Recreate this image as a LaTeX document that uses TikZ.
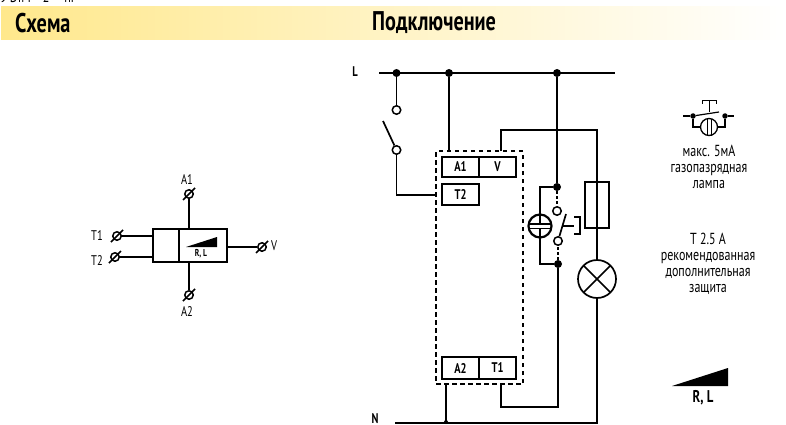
\documentclass[tikz,border=0pt]{standalone}
\usepackage{fontspec}
\setmainfont[FakeStretch=0.75]{PT Sans}
\usetikzlibrary{positioning}
\definecolor{bandyellow}{RGB}{255,232,140}
\tikzset{
  wire/.style={line width=1.7pt},
  thinwire/.style={line width=1.2pt},
  dashwire/.style={line width=1.7pt, dash pattern=on 4.5pt off 3.5pt},
  dot/.style={circle, fill=black, inner sep=0pt, minimum size=8pt},
  ring/.style={circle, draw, line width=1.5pt, fill=white, inner sep=0pt, minimum size=8.5pt},
  cell/.style={rectangle, draw, line width=1.7pt, inner sep=0pt, outer sep=0pt,
    minimum width=37pt, minimum height=20pt, font=\fontsize{14}{15}\selectfont\bfseries},
  tag/.style={inner sep=0pt, font=\fontsize{14}{15}\selectfont},
  note/.style={inner sep=0pt, align=center, font=\fontsize{16}{16}\selectfont},
  head/.style={inner sep=0pt, font=\fontsize{27}{30}\selectfont\bfseries}
}
\begin{document}
\begin{tikzpicture}[x=1pt,y=-1pt]
\useasboundingbox (0,0) rectangle (786,425);
\begin{scope}
\clip (0,0) rectangle (786,3.5);
\node[tag, anchor=base west, font=\fontsize{16}{16}\selectfont] (top) at (0,3) {9 DIM\hspace{12pt}2\hspace{15pt}nF};
\end{scope}
\shade[left color=bandyellow, right color=white] (1,7) rectangle (786,40);
\node[head, anchor=west] (schema) at (15,23) {Схема};
\node[head, anchor=west] (conn) at (372,23) {Подключение};

\node[rectangle, draw, wire, minimum width=26pt, minimum height=33pt, inner sep=0pt, outer sep=0pt] (ka) at (166,245.5) {};
\node[rectangle, draw, wire, minimum width=48pt, minimum height=33pt, inner sep=0pt, outer sep=0pt, right=0pt of ka] (kb) {};
\node[ring] (ta1) at (189,194) {};
\node[ring] (ta2) at (189,295) {};
\node[ring] (tt1) at (117,236) {};
\node[ring] (tt2) at (115,257) {};
\node[ring] (tv) at (262,247) {};
\node[tag] (la1) at (187,180) {A1};
\node[tag] (la2) at (187,312) {A2};
\node[tag] (lt1) at (97,236) {T1};
\node[tag] (lt2) at (97,261) {T2};
\node[tag] (lv) at (274,246) {V};
\draw[wire] (ta1) -- (ta1 |- kb.north);
\draw[wire] (ta2) -- (ta2 |- kb.south);
\draw[wire] (tt1) -- (tt1 -| ka.west);
\draw[wire] (tt2) -- (tt2 -| ka.west);
\draw[wire] (tv) -- (tv -| kb.east);
\foreach \t in {ta1,ta2,tt1,tt2,tv}
  \draw[wire] ([shift={(-6,6)}]\t.center) -- ([shift={(6,-6)}]\t.center);
\fill (186,247) -- (217,237) -- (217,247) -- cycle;
\node[tag, font=\fontsize{10}{11}\selectfont\bfseries] (lrl) at (201,254) {R, L};

\node[tag, font=\fontsize{14}{15}\selectfont\bfseries] (ll) at (355,72) {L};
\node[tag, font=\fontsize{14}{15}\selectfont\bfseries] (ln) at (375,418.5) {N};
\coordinate (lstart) at (379,73);
\coordinate (lend) at (615,73);
\coordinate (nstart) at (395,423);
\node[dot] (dl1) at (396.5,73) {};
\node[dot] (dl2) at (449,73) {};
\node[dot] (dl3) at (557,73) {};
\draw[wire] (lstart) -- (lend);

\node[rectangle, draw, dashwire, minimum width=87pt, minimum height=233pt, inner sep=0pt, outer sep=0pt] (relbox) at (479.5,267.5) {};
\node[cell] (a1) at (460.5,167) {A1};
\node[cell, right=0pt of a1] (v) {V};
\node[cell, line width=1.2pt, minimum height=21pt] (t2) at (460.5,194.5) {T2};
\node[cell, minimum height=22pt] (a2) at (460.5,368) {A2};
\node[cell, minimum height=22pt, right=0pt of a2] (t1) {T1};

\node[ring] (swt) at (396.5,110) {};
\node[ring] (swb) at (396.5,150) {};
\coordinate (swend) at (383,121);
\coordinate (tin) at (436,195);
\draw[wire] (dl1) -- (swt);
\draw[wire] (swb) -- (swend);
\draw[thinwire] (swb) |- (tin);
\draw[wire] (dl2) -- (dl2 |- relbox.north);

\coordinate (vin) at (501,151);
\coordinate (vc) at (597,130);
\node[rectangle, draw, wire, minimum width=24pt, minimum height=46pt, inner sep=0pt, outer sep=0pt] (fuse) at (597,205) {};
\node[circle, draw, wire, minimum size=38pt, inner sep=0pt, outer sep=0pt] (lamp) at (597,279) {};
\coordinate (nc) at (597,423);
\draw[thinwire] (vin) |- (vc) -- (fuse.north);
\draw[thinwire] (fuse.north) -- (fuse.south);
\draw[wire] (fuse.south) -- (lamp.north);
\draw[wire] (lamp.south) -- (nc) -- (nstart);
\draw[wire] (lamp.45) -- (lamp.225);
\draw[wire] (lamp.135) -- (lamp.315);

\node[dot] (dk1) at (557,187) {};
\node[dot] (dk2) at (558,264) {};
\node[ring] (rk1) at (557,211) {};
\node[ring] (rk2) at (558,241) {};
\node[circle, draw, line width=2.2pt, minimum size=23pt, inner sep=0pt, outer sep=0pt] (glow) at (540,226) {};
\coordinate (blade) at (566,214);
\coordinate (act) at (563,226);
\coordinate (actend) at (574,226);
\coordinate (acttop) at (574,217);
\coordinate (actbot) at (574,234);
\coordinate (actmid) at (580,226);
\draw[wire] (dl3) -- (dk1);
\draw[thinwire] (dk1) -| (glow.north);
\draw[thinwire] (dk2) -| (glow.south);
\draw[wire, dash pattern=on 3pt off 2pt] (dk1) -- (rk1);
\draw[wire, dash pattern=on 3pt off 2pt] (dk2) -- (rk2);
\draw[wire] (rk2) -- (blade);
\draw[thinwire] (act) -- (actend);
\draw[thinwire] (acttop) -| (actmid |- actbot) -- (actbot);
\draw[wire] (glow.north) -- ([yshift=2pt]glow.center);
\draw[wire] (glow.south) -- ([yshift=-2.5pt]glow.center);
\draw[thinwire] ([shift={(-10,-2)}]glow.center) -- ([shift={(10,-2)}]glow.center);
\draw[thinwire] ([shift={(-10,2.5)}]glow.center) -- ([shift={(10,2.5)}]glow.center);

\coordinate (tc) at (501,407);
\coordinate (na) at (446,423);
\draw[wire] (dk2) |- (tc) -- (tc |- relbox.south);
\draw[wire] (na |- relbox.south) -- (na);
\node[dot, minimum size=4pt] (dn) at (446,422) {};

\node[dot, minimum size=5.5pt] (sd1) at (693,116) {};
\node[dot, minimum size=5.5pt] (sd2) at (725,116) {};
\node[circle, draw, line width=1.3pt, minimum size=17pt, inner sep=0pt, outer sep=0pt] (sglow) at (709,127) {};
\coordinate (sl) at (683,116);
\coordinate (sr) at (734,116);
\coordinate (sbl) at (719,112);
\coordinate (sact) at (709,101);
\draw[thinwire] (sl) -- (sd1);
\draw[thinwire] (sd2) -- (sr);
\draw[thinwire] (sd1) |- (sglow.west);
\draw[thinwire] (sd2) |- (sglow.east);
\draw[thinwire] (sd1) -- (sbl);
\draw[line width=1pt] (sact) -- (sact |- sbl);
\draw[line width=1pt] (702,104) |- (716,101) -- (716,104);
\draw[line width=1pt] ([xshift=-2pt]sglow.north) -- ([xshift=-2pt]sglow.south);
\draw[line width=1pt] ([xshift=2pt]sglow.north) -- ([xshift=2pt]sglow.south);
\node[note] (nglow) at (709,167) {макс. 5мА\\газопазрядная\\лампа};
\node[note] (nfuse) at (708,264) {T 2.5 A\\рекомендованная\\дополнительная\\защита};
\fill (672,386) -- (728,368) -- (728,386) -- cycle;
\node[tag, font=\fontsize{17}{18}\selectfont\bfseries] (lrl2) at (703,398) {R, L};
\end{tikzpicture}
\end{document}
